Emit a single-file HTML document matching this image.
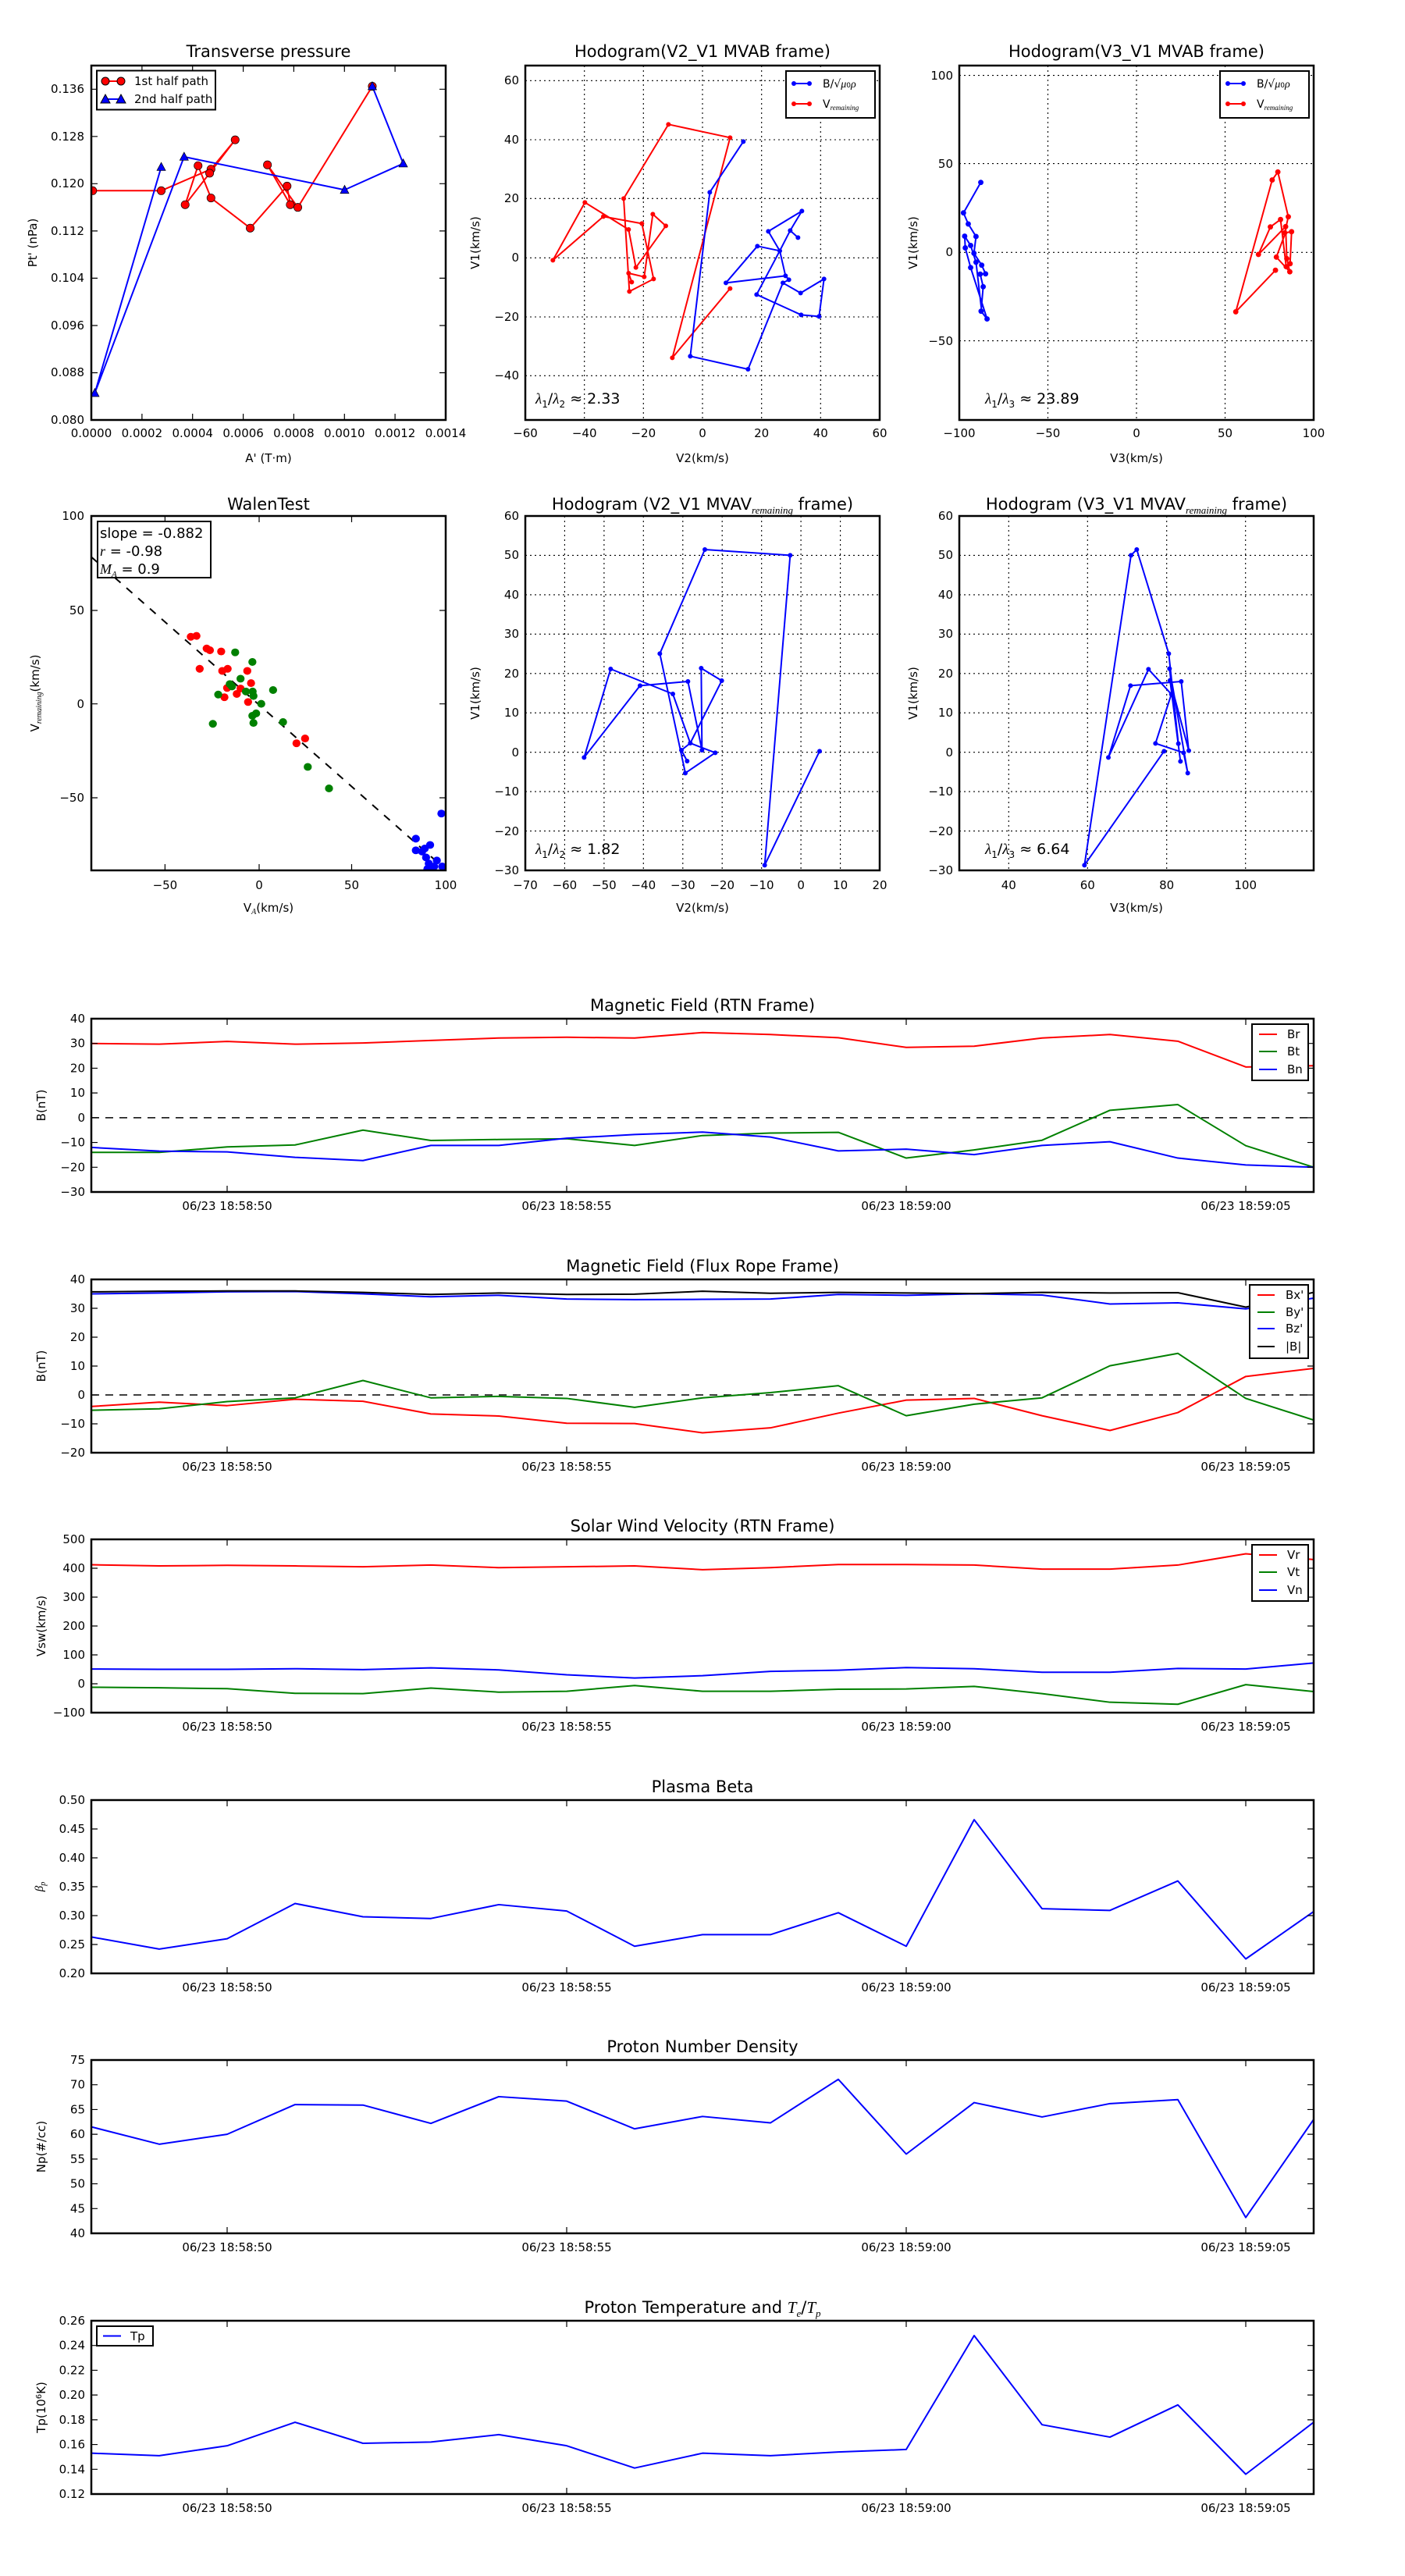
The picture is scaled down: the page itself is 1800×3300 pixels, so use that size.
<!DOCTYPE html>
<html><head><meta charset="utf-8"><style>
html,body{margin:0;padding:0;background:#fff;}
svg{display:block;font-family:"DejaVu Sans","Liberation Sans",sans-serif;}
.t{font-size:21px;text-anchor:middle;fill:#000}
.k{font-size:15px;fill:#000}
.l{font-size:15px;fill:#000}
.fr{fill:none;stroke:#000;stroke-width:2.5}
.tk{stroke:#000;stroke-width:1.2;fill:none}
.gd{stroke:#000;stroke-width:1.1;stroke-dasharray:2,4;fill:none}
.ln{fill:none;stroke-width:2;vector-effect:non-scaling-stroke;stroke-linejoin:round}
</style></head><body>
<svg width="1800" height="3300" viewBox="0 0 1800 3300" xmlns="http://www.w3.org/2000/svg">
<rect width="1800" height="3300" fill="#fff"/>

<!-- ============ Transverse pressure ============ -->
<text class="t" x="344" y="73">Transverse pressure</text>
<svg x="117" y="84" width="454" height="454" viewBox="165 128 1318 1317" preserveAspectRatio="none">
<polyline class="ln" stroke="#f00" points="170,593 425,593 610,513 700,404 605,528 514,645 562,500 610,620 756,732 893,576 905,645 820,497 933,655 1210,205"/>
<polyline class="ln" stroke="#00f" points="425,505 178,1345 510,467 1107,590 1325,492 1210,205"/>
<g fill="#f00" stroke="#000" stroke-width="2">
<circle cx="170" cy="593" r="15"/><circle cx="425" cy="593" r="15"/><circle cx="610" cy="513" r="15"/><circle cx="700" cy="404" r="15"/><circle cx="605" cy="528" r="15"/><circle cx="514" cy="645" r="15"/><circle cx="562" cy="500" r="15"/><circle cx="610" cy="620" r="15"/><circle cx="756" cy="732" r="15"/><circle cx="893" cy="576" r="15"/><circle cx="905" cy="645" r="15"/><circle cx="820" cy="497" r="15"/><circle cx="933" cy="655" r="15"/><circle cx="1210" cy="205" r="15"/>
</g>
<g fill="#00f" stroke="#000" stroke-width="2">
<polygon points="425,488 409,518 441,518"/><polygon points="178,1328 162,1358 194,1358"/><polygon points="510,450 494,480 526,480"/><polygon points="1107,573 1091,603 1123,603"/><polygon points="1325,475 1309,505 1341,505"/><polygon points="1210,188 1194,218 1226,218"/>
</g>
</svg>
<rect class="fr" x="117" y="84" width="454" height="454"/>
<path class="tk" d="M181.9,538v-8M246.7,538v-8M311.6,538v-8M376.4,538v-8M441.3,538v-8M506.1,538v-8M181.9,84v8M246.7,84v8M311.6,84v8M376.4,84v8M441.3,84v8M506.1,84v8M117,477.5h8M117,417h8M117,356.4h8M117,295.9h8M117,235.3h8M117,174.8h8M117,114.3h8M571,477.5h-8M571,417h-8M571,356.4h-8M571,295.9h-8M571,235.3h-8M571,174.8h-8M571,114.3h-8"/>
<g class="k" text-anchor="end">
<text x="108" y="543">0.080</text><text x="108" y="482">0.088</text><text x="108" y="422">0.096</text><text x="108" y="361">0.104</text><text x="108" y="301">0.112</text><text x="108" y="240">0.120</text><text x="108" y="180">0.128</text><text x="108" y="119">0.136</text>
</g>
<g class="k" text-anchor="middle">
<text x="117" y="560">0.0000</text><text x="181.9" y="560">0.0002</text><text x="246.7" y="560">0.0004</text><text x="311.6" y="560">0.0006</text><text x="376.4" y="560">0.0008</text><text x="441.3" y="560">0.0010</text><text x="506.1" y="560">0.0012</text><text x="571" y="560">0.0014</text>
</g>
<text class="l" x="344" y="592" text-anchor="middle">A' (T·m)</text>
<text class="l" transform="translate(47,311) rotate(-90)" text-anchor="middle">Pt' (nPa)</text>
<rect x="124" y="90.5" width="152" height="50" fill="#fff" stroke="#000" stroke-width="2"/>
<line x1="135" y1="104" x2="155" y2="104" stroke="#f00" stroke-width="2"/>
<circle cx="135" cy="104" r="5" fill="#f00" stroke="#000"/><circle cx="155" cy="104" r="5" fill="#f00" stroke="#000"/>
<text x="172" y="109" class="k">1st half path</text>
<line x1="135" y1="127" x2="155" y2="127" stroke="#00f" stroke-width="2"/>
<polygon points="135,121 129,132 141,132" fill="#00f" stroke="#000"/><polygon points="155,121 149,132 161,132" fill="#00f" stroke="#000"/>
<text x="172" y="132" class="k">2nd half path</text>

<!-- ============ Hodogram V2_V1 MVAB ============ -->
<text class="t" x="900" y="73">Hodogram(V2_V1 MVAB frame)</text>
<path class="gd" d="M748.7,84V538M824.3,84V538M900,84V538M975.7,84V538M1051.3,84V538M673,103.3H1127M673,179H1127M673,254.3H1127M673,330.3H1127M673,406H1127M673,481.3H1127"/>
<svg x="673" y="84" width="454" height="454" viewBox="0 0 1362 1362" preserveAspectRatio="none">
<polyline class="ln" stroke="#f00" points="787,857 565,1123 787,277 550,226 378,511 400,868 493,820 448,607 300,580 106,748 229,526 397,630 425,776 540,616 490,571 457,812 397,798 409,832"/>
<g fill="#f00"><circle cx="787" cy="857" r="9"/><circle cx="565" cy="1123" r="9"/><circle cx="787" cy="277" r="9"/><circle cx="550" cy="226" r="9"/><circle cx="378" cy="511" r="9"/><circle cx="400" cy="868" r="9"/><circle cx="493" cy="820" r="9"/><circle cx="448" cy="607" r="9"/><circle cx="300" cy="580" r="9"/><circle cx="106" cy="748" r="9"/><circle cx="229" cy="526" r="9"/><circle cx="397" cy="630" r="9"/><circle cx="425" cy="776" r="9"/><circle cx="540" cy="616" r="9"/><circle cx="490" cy="571" r="9"/><circle cx="457" cy="812" r="9"/><circle cx="397" cy="798" r="9"/><circle cx="409" cy="832" r="9"/></g>
<polyline class="ln" stroke="#00f" points="838,292 709,487 634,1117 856,1167 990,835 1058,874 1148,820 1129,964 1060,958 889,880 978,712 1018,634 1063,559 934,637 978,712 1000,808 771,835 892,694 978,712"/>
<polyline class="ln" stroke="#00f" points="1018,634 1048,661"/>
<polyline class="ln" stroke="#00f" points="1000,808 1013,823 990,835"/>
<g fill="#00f"><circle cx="838" cy="292" r="9"/><circle cx="709" cy="487" r="9"/><circle cx="634" cy="1117" r="9"/><circle cx="856" cy="1167" r="9"/><circle cx="990" cy="835" r="9"/><circle cx="1058" cy="874" r="9"/><circle cx="1148" cy="820" r="9"/><circle cx="1129" cy="964" r="9"/><circle cx="1060" cy="958" r="9"/><circle cx="889" cy="880" r="9"/><circle cx="978" cy="712" r="9"/><circle cx="1018" cy="634" r="9"/><circle cx="1063" cy="559" r="9"/><circle cx="934" cy="637" r="9"/><circle cx="1000" cy="808" r="9"/><circle cx="1013" cy="823" r="9"/><circle cx="771" cy="835" r="9"/><circle cx="892" cy="694" r="9"/><circle cx="1048" cy="661" r="9"/></g>
</svg>
<rect class="fr" x="673" y="84" width="454" height="454"/>
<g class="k" text-anchor="end"><text x="665" y="108">60</text><text x="665" y="184">40</text><text x="665" y="259">20</text><text x="665" y="335">0</text><text x="665" y="411">−20</text><text x="665" y="486">−40</text></g>
<g class="k" text-anchor="middle"><text x="673" y="560">−60</text><text x="748.7" y="560">−40</text><text x="824.3" y="560">−20</text><text x="900" y="560">0</text><text x="975.7" y="560">20</text><text x="1051.3" y="560">40</text><text x="1127" y="560">60</text></g>
<text class="l" x="900" y="592" text-anchor="middle">V2(km/s)</text>
<text class="l" transform="translate(614,311) rotate(-90)" text-anchor="middle">V1(km/s)</text>
<text x="686" y="517" style="font-size:19px"><tspan font-style="italic" font-family="Liberation Serif,serif">λ</tspan><tspan font-size="12" dy="5">1</tspan><tspan dy="-5">/</tspan><tspan font-style="italic" font-family="Liberation Serif,serif">λ</tspan><tspan font-size="12" dy="5">2</tspan><tspan dy="-5"> ≈ 2.33</tspan></text>
<rect x="1007" y="91" width="114" height="60" fill="#fff" stroke="#000" stroke-width="2"/>
<line x1="1017" y1="107" x2="1037" y2="107" stroke="#00f" stroke-width="2"/><circle cx="1017" cy="107" r="3" fill="#00f"/><circle cx="1037" cy="107" r="3" fill="#00f"/>
<text x="1054" y="112" style="font-size:14px">B/√<tspan font-style="italic" font-family="Liberation Serif,serif">μ</tspan><tspan font-size="9">0</tspan><tspan font-style="italic" font-family="Liberation Serif,serif">ρ</tspan></text>
<line x1="1017" y1="133" x2="1037" y2="133" stroke="#f00" stroke-width="2"/><circle cx="1017" cy="133" r="3" fill="#f00"/><circle cx="1037" cy="133" r="3" fill="#f00"/>
<text x="1054" y="138" style="font-size:14px">V<tspan font-size="9" font-style="italic" font-family="Liberation Serif,serif" dy="3">remaining</tspan></text>

<!-- ============ Hodogram V3_V1 MVAB ============ -->
<text class="t" x="1456" y="73">Hodogram(V3_V1 MVAB frame)</text>
<path class="gd" d="M1342.5,84V538M1456,84V538M1569.5,84V538M1229,96.6H1683M1229,209.6H1683M1229,323.3H1683M1229,436.6H1683"/>
<svg x="1229" y="84" width="454" height="454" viewBox="75 62 1187 1186" preserveAspectRatio="none">
<polyline class="ln" stroke="#00f" points="147,453 89,555 105,592 131,634 124,690 150,730 163,759 145,760 155,802 148,884 168,910 113,738 95,672 93,633 113,664 131,720 150,884"/>
<g fill="#00f"><circle cx="147" cy="453" r="9"/><circle cx="89" cy="555" r="9"/><circle cx="105" cy="592" r="9"/><circle cx="131" cy="634" r="9"/><circle cx="124" cy="690" r="9"/><circle cx="150" cy="730" r="9"/><circle cx="163" cy="759" r="9"/><circle cx="145" cy="760" r="9"/><circle cx="155" cy="802" r="9"/><circle cx="148" cy="884" r="9"/><circle cx="168" cy="910" r="9"/><circle cx="113" cy="738" r="9"/><circle cx="95" cy="672" r="9"/><circle cx="93" cy="633" r="9"/><circle cx="113" cy="664" r="9"/><circle cx="131" cy="720" r="9"/></g>
<polyline class="ln" stroke="#f00" points="1134,747 1001,886 1123,445 1142,418 1177,568 1165,622 1188,618 1183,725 1170,735 1151,577 1117,602 1077,694 1168,601 1172,708 1182,752 1137,703 1168,620"/>
<g fill="#f00"><circle cx="1134" cy="747" r="9"/><circle cx="1001" cy="886" r="9"/><circle cx="1123" cy="445" r="9"/><circle cx="1142" cy="418" r="9"/><circle cx="1177" cy="568" r="9"/><circle cx="1165" cy="622" r="9"/><circle cx="1188" cy="618" r="9"/><circle cx="1183" cy="725" r="9"/><circle cx="1170" cy="735" r="9"/><circle cx="1151" cy="577" r="9"/><circle cx="1117" cy="602" r="9"/><circle cx="1077" cy="694" r="9"/><circle cx="1168" cy="601" r="9"/><circle cx="1172" cy="708" r="9"/><circle cx="1182" cy="752" r="9"/><circle cx="1137" cy="703" r="9"/></g>
</svg>
<rect class="fr" x="1229" y="84" width="454" height="454"/>
<g class="k" text-anchor="end"><text x="1221" y="102">100</text><text x="1221" y="215">50</text><text x="1221" y="328">0</text><text x="1221" y="442">−50</text></g>
<g class="k" text-anchor="middle"><text x="1229" y="560">−100</text><text x="1342.5" y="560">−50</text><text x="1456" y="560">0</text><text x="1569.5" y="560">50</text><text x="1683" y="560">100</text></g>
<text class="l" x="1456" y="592" text-anchor="middle">V3(km/s)</text>
<text class="l" transform="translate(1175,311) rotate(-90)" text-anchor="middle">V1(km/s)</text>
<text x="1262" y="517" style="font-size:19px"><tspan font-style="italic" font-family="Liberation Serif,serif">λ</tspan><tspan font-size="12" dy="5">1</tspan><tspan dy="-5">/</tspan><tspan font-style="italic" font-family="Liberation Serif,serif">λ</tspan><tspan font-size="12" dy="5">3</tspan><tspan dy="-5"> ≈ 23.89</tspan></text>
<rect x="1563" y="91" width="114" height="60" fill="#fff" stroke="#000" stroke-width="2"/>
<line x1="1573" y1="107" x2="1593" y2="107" stroke="#00f" stroke-width="2"/><circle cx="1573" cy="107" r="3" fill="#00f"/><circle cx="1593" cy="107" r="3" fill="#00f"/>
<text x="1610" y="112" style="font-size:14px">B/√<tspan font-style="italic" font-family="Liberation Serif,serif">μ</tspan><tspan font-size="9">0</tspan><tspan font-style="italic" font-family="Liberation Serif,serif">ρ</tspan></text>
<line x1="1573" y1="133" x2="1593" y2="133" stroke="#f00" stroke-width="2"/><circle cx="1573" cy="133" r="3" fill="#f00"/><circle cx="1593" cy="133" r="3" fill="#f00"/>
<text x="1610" y="138" style="font-size:14px">V<tspan font-size="9" font-style="italic" font-family="Liberation Serif,serif" dy="3">remaining</tspan></text>

<!-- ============ WalenTest ============ -->
<text class="t" x="344" y="653">WalenTest</text>
<svg x="117" y="661" width="454" height="454" viewBox="165 318 1318 1185" preserveAspectRatio="none">
<line x1="165" y1="455" x2="1483" y2="1500" stroke="#000" stroke-width="2" stroke-dasharray="10,10" vector-effect="non-scaling-stroke"/>
<g fill="#f00"><ellipse cx="535" cy="722" rx="15" ry="13"/><ellipse cx="556" cy="719" rx="15" ry="13"/><ellipse cx="594" cy="761" rx="15" ry="13"/><ellipse cx="606" cy="767" rx="15" ry="13"/><ellipse cx="648" cy="771" rx="15" ry="13"/><ellipse cx="568" cy="829" rx="15" ry="13"/><ellipse cx="652" cy="836" rx="15" ry="13"/><ellipse cx="672" cy="829" rx="15" ry="13"/><ellipse cx="745" cy="836" rx="15" ry="13"/><ellipse cx="759" cy="877" rx="15" ry="13"/><ellipse cx="670" cy="893" rx="15" ry="13"/><ellipse cx="706" cy="913" rx="15" ry="13"/><ellipse cx="660" cy="924" rx="15" ry="13"/><ellipse cx="748" cy="940" rx="15" ry="13"/><ellipse cx="720" cy="895" rx="15" ry="13"/><ellipse cx="928" cy="1078" rx="15" ry="13"/><ellipse cx="960" cy="1062" rx="15" ry="13"/></g>
<g fill="#008000"><ellipse cx="700" cy="774" rx="15" ry="13"/><ellipse cx="764" cy="806" rx="15" ry="13"/><ellipse cx="720" cy="862" rx="15" ry="13"/><ellipse cx="680" cy="880" rx="15" ry="13"/><ellipse cx="688" cy="888" rx="15" ry="13"/><ellipse cx="740" cy="905" rx="15" ry="13"/><ellipse cx="765" cy="905" rx="15" ry="13"/><ellipse cx="768" cy="920" rx="15" ry="13"/><ellipse cx="637" cy="915" rx="15" ry="13"/><ellipse cx="797" cy="946" rx="15" ry="13"/><ellipse cx="841" cy="900" rx="15" ry="13"/><ellipse cx="778" cy="978" rx="15" ry="13"/><ellipse cx="764" cy="986" rx="15" ry="13"/><ellipse cx="768" cy="1010" rx="15" ry="13"/><ellipse cx="617" cy="1013" rx="15" ry="13"/><ellipse cx="878" cy="1007" rx="15" ry="13"/><ellipse cx="970" cy="1157" rx="15" ry="13"/><ellipse cx="1049" cy="1229" rx="15" ry="13"/></g>
<g fill="#00f"><ellipse cx="1467" cy="1313" rx="15" ry="13"/><ellipse cx="1372" cy="1397" rx="15" ry="13"/><ellipse cx="1372" cy="1436" rx="15" ry="13"/><ellipse cx="1405" cy="1430" rx="15" ry="13"/><ellipse cx="1425" cy="1418" rx="15" ry="13"/><ellipse cx="1410" cy="1460" rx="15" ry="13"/><ellipse cx="1450" cy="1470" rx="15" ry="13"/><ellipse cx="1420" cy="1480" rx="15" ry="13"/><ellipse cx="1440" cy="1490" rx="15" ry="13"/><ellipse cx="1470" cy="1490" rx="15" ry="13"/><ellipse cx="1430" cy="1500" rx="15" ry="13"/><ellipse cx="1415" cy="1498" rx="15" ry="13"/><ellipse cx="1395" cy="1440" rx="15" ry="13"/></g>
</svg>
<rect class="fr" x="117" y="661" width="454" height="454"/>
<path class="tk" d="M211.4,1115v-8M332,1115v-8M450.5,1115v-8M211.4,661v8M332,661v8M450.5,661v8M117,782h8M117,901.7h8M117,1022h8M571,782h-8M571,901.7h-8M571,1022h-8"/>
<g class="k" text-anchor="end"><text x="108" y="666">100</text><text x="108" y="787">50</text><text x="108" y="907">0</text><text x="108" y="1027">−50</text></g>
<g class="k" text-anchor="middle"><text x="211.4" y="1139">−50</text><text x="332" y="1139">0</text><text x="450.5" y="1139">50</text><text x="571" y="1139">100</text></g>
<text class="l" x="344" y="1168" text-anchor="middle">V<tspan font-size="10" font-style="italic" font-family="Liberation Serif,serif" dy="3">A</tspan><tspan dy="-3">(km/s)</tspan></text>
<text class="l" transform="translate(50,888) rotate(-90)" text-anchor="middle">V<tspan font-size="10" font-style="italic" font-family="Liberation Serif,serif" dy="3">remaining</tspan><tspan dy="-3">(km/s)</tspan></text>
<rect x="125" y="668" width="145" height="72" fill="#fff" stroke="#000" stroke-width="2"/>
<text x="128" y="689" style="font-size:18px">slope = -0.882</text>
<text x="128" y="712" style="font-size:18px"><tspan font-style="italic" font-family="Liberation Serif,serif">r</tspan> = -0.98</text>
<text x="128" y="735" style="font-size:18px"><tspan font-style="italic" font-family="Liberation Serif,serif">M</tspan><tspan font-size="11" font-style="italic" font-family="Liberation Serif,serif" dy="4">A</tspan><tspan dy="-4"> = 0.9</tspan></text>

<!-- ============ Hodogram V2_V1 MVAV ============ -->
<text class="t" x="900" y="653">Hodogram (V2_V1 MVAV<tspan font-size="13" font-style="italic" font-family="Liberation Serif,serif" dy="5">remaining</tspan><tspan dy="-5"> frame)</tspan></text>
<path class="gd" d="M723.4,661V1115M773.9,661V1115M824.3,661V1115M874.8,661V1115M925.2,661V1115M975.7,661V1115M1026.1,661V1115M1076.6,661V1115M673,711.4H1127M673,761.9H1127M673,812.3H1127M673,862.8H1127M673,913.2H1127M673,963.7H1127M673,1014.1H1127M673,1064.6H1127"/>
<svg x="673" y="661" width="454" height="454" viewBox="0 0 1362 1362" preserveAspectRatio="none">
<polyline class="ln" stroke="#00f" points="1131,904 920,1342 1018,151 690,129 517,529 615,988 730,910 634,873 567,684 328,588 226,928 441,652 625,636 679,900 676,585 755,633 634,873 600,900 622,942"/>
<g fill="#00f"><circle cx="1131" cy="904" r="9"/><circle cx="920" cy="1342" r="9"/><circle cx="1018" cy="151" r="9"/><circle cx="690" cy="129" r="9"/><circle cx="517" cy="529" r="9"/><circle cx="615" cy="988" r="9"/><circle cx="730" cy="910" r="9"/><circle cx="634" cy="873" r="9"/><circle cx="567" cy="684" r="9"/><circle cx="328" cy="588" r="9"/><circle cx="226" cy="928" r="9"/><circle cx="441" cy="652" r="9"/><circle cx="625" cy="636" r="9"/><circle cx="679" cy="900" r="9"/><circle cx="676" cy="585" r="9"/><circle cx="755" cy="633" r="9"/><circle cx="600" cy="900" r="9"/><circle cx="622" cy="942" r="9"/></g>
</svg>
<rect class="fr" x="673" y="661" width="454" height="454"/>
<g class="k" text-anchor="end"><text x="665" y="666">60</text><text x="665" y="716">50</text><text x="665" y="767">40</text><text x="665" y="817">30</text><text x="665" y="868">20</text><text x="665" y="918">10</text><text x="665" y="969">0</text><text x="665" y="1019">−10</text><text x="665" y="1070">−20</text><text x="665" y="1120">−30</text></g>
<g class="k" text-anchor="middle"><text x="673" y="1139">−70</text><text x="723.4" y="1139">−60</text><text x="773.9" y="1139">−50</text><text x="824.3" y="1139">−40</text><text x="874.8" y="1139">−30</text><text x="925.2" y="1139">−20</text><text x="975.7" y="1139">−10</text><text x="1026.1" y="1139">0</text><text x="1076.6" y="1139">10</text><text x="1127" y="1139">20</text></g>
<text class="l" x="900" y="1168" text-anchor="middle">V2(km/s)</text>
<text class="l" transform="translate(614,888) rotate(-90)" text-anchor="middle">V1(km/s)</text>
<text x="686" y="1094" style="font-size:19px"><tspan font-style="italic" font-family="Liberation Serif,serif">λ</tspan><tspan font-size="12" dy="5">1</tspan><tspan dy="-5">/</tspan><tspan font-style="italic" font-family="Liberation Serif,serif">λ</tspan><tspan font-size="12" dy="5">2</tspan><tspan dy="-5"> ≈ 1.82</tspan></text>

<!-- ============ Hodogram V3_V1 MVAV ============ -->
<text class="t" x="1456" y="653">Hodogram (V3_V1 MVAV<tspan font-size="13" font-style="italic" font-family="Liberation Serif,serif" dy="5">remaining</tspan><tspan dy="-5"> frame)</tspan></text>
<path class="gd" d="M1292.3,661V1115M1393.3,661V1115M1494.7,661V1115M1595.7,661V1115M1229,711.4H1683M1229,761.9H1683M1229,812.3H1683M1229,862.8H1683M1229,913.2H1683M1229,963.7H1683M1229,1014.1H1683M1229,1064.6H1683"/>
<svg x="1229" y="661" width="454" height="454" viewBox="0 0 1362 1362" preserveAspectRatio="none">
<polyline class="ln" stroke="#00f" points="787,904 481,1342 660,151 682,129 805,529 842,875 808,587 878,988 862,910 754,874 815,685 727,589 573,928 658,652 853,636 882,902 810,632 850,943"/>
<g fill="#00f"><circle cx="787" cy="904" r="9"/><circle cx="481" cy="1342" r="9"/><circle cx="660" cy="151" r="9"/><circle cx="682" cy="129" r="9"/><circle cx="805" cy="529" r="9"/><circle cx="842" cy="875" r="9"/><circle cx="808" cy="587" r="9"/><circle cx="878" cy="988" r="9"/><circle cx="862" cy="910" r="9"/><circle cx="754" cy="874" r="9"/><circle cx="815" cy="685" r="9"/><circle cx="727" cy="589" r="9"/><circle cx="573" cy="928" r="9"/><circle cx="658" cy="652" r="9"/><circle cx="853" cy="636" r="9"/><circle cx="882" cy="902" r="9"/><circle cx="810" cy="632" r="9"/><circle cx="850" cy="943" r="9"/></g>
</svg>
<rect class="fr" x="1229" y="661" width="454" height="454"/>
<g class="k" text-anchor="end"><text x="1221" y="666">60</text><text x="1221" y="716">50</text><text x="1221" y="767">40</text><text x="1221" y="817">30</text><text x="1221" y="868">20</text><text x="1221" y="918">10</text><text x="1221" y="969">0</text><text x="1221" y="1019">−10</text><text x="1221" y="1070">−20</text><text x="1221" y="1120">−30</text></g>
<g class="k" text-anchor="middle"><text x="1292.3" y="1139">40</text><text x="1393.3" y="1139">60</text><text x="1494.7" y="1139">80</text><text x="1595.7" y="1139">100</text></g>
<text class="l" x="1456" y="1168" text-anchor="middle">V3(km/s)</text>
<text class="l" transform="translate(1175,888) rotate(-90)" text-anchor="middle">V1(km/s)</text>
<text x="1262" y="1094" style="font-size:19px"><tspan font-style="italic" font-family="Liberation Serif,serif">λ</tspan><tspan font-size="12" dy="5">1</tspan><tspan dy="-5">/</tspan><tspan font-style="italic" font-family="Liberation Serif,serif">λ</tspan><tspan font-size="12" dy="5">3</tspan><tspan dy="-5"> ≈ 6.64</tspan></text>

<!-- ============ Time series ============ -->
<g transform="translate(117,1305)">
<text class="t" x="783" y="-10">Magnetic Field (RTN Frame)</text>
<line x1="0" y1="126.86" x2="1566" y2="126.86" stroke="#000" stroke-width="1.5" stroke-dasharray="10,8"/>
<svg x="0" y="0" width="1566" height="222" viewBox="0 -40 18 70" preserveAspectRatio="none">
<polyline class="ln" stroke="#f00" points="0,-30 1,-29.7 2,-30.8 3,-29.7 4,-30.2 5,-31.2 6,-32.2 7,-32.5 8,-32.2 9,-34.4 10,-33.6 11,-32.3 12,-28.4 13,-28.9 14,-32.2 15,-33.6 16,-30.9 17,-20.5 18,-21"/>
<polyline class="ln" stroke="#008000" points="0,14 1,14 2,11.8 3,11 4,5 5,9.2 6,8.8 7,8.5 8,11.2 9,7.2 10,6.2 11,5.9 12,16.3 13,13 14,9.1 15,-3 16,-5.3 17,11.3 18,20"/>
<polyline class="ln" stroke="#00f" points="0,12 1,13.5 2,13.8 3,16 4,17.3 5,11.2 6,11.2 7,8.3 8,6.8 9,5.8 10,7.8 11,13.4 12,12.7 13,14.9 14,11.2 15,9.7 16,16.3 17,19.1 18,20"/>
</svg>
<rect class="fr" x="0" y="0" width="1566" height="222"/>
<path class="tk" d="M174,222v-8M609,222v-8M1044,222v-8M1479,222v-8M174,0v8M609,0v8M1044,0v8M1479,0v8M0,31.71h8M0,63.43h8M0,95.14h8M0,126.86h8M0,158.57h8M0,190.29h8M1566,31.71h-8M1566,63.43h-8M1566,95.14h-8M1566,126.86h-8M1566,158.57h-8M1566,190.29h-8"/>
<g class="k" text-anchor="end"><text x="-8" y="5">40</text><text x="-8" y="36.7">30</text><text x="-8" y="68.4">20</text><text x="-8" y="100.1">10</text><text x="-8" y="131.9">0</text><text x="-8" y="163.6">−10</text><text x="-8" y="195.3">−20</text><text x="-8" y="227">−30</text></g>
<g class="k" text-anchor="middle"><text x="174" y="245">06/23 18:58:50</text><text x="609" y="245">06/23 18:58:55</text><text x="1044" y="245">06/23 18:59:00</text><text x="1479" y="245">06/23 18:59:05</text></g>
<text class="l" transform="translate(-59,111) rotate(-90)" text-anchor="middle">B(nT)</text>
<rect x="1487" y="7" width="72" height="72" fill="#fff" stroke="#000" stroke-width="2"/>
<line x1="1496" y1="20" x2="1519" y2="20" stroke="#f00" stroke-width="2"/><text class="k" x="1532" y="25">Br</text>
<line x1="1496" y1="42" x2="1519" y2="42" stroke="#008000" stroke-width="2"/><text class="k" x="1532" y="47">Bt</text>
<line x1="1496" y1="65" x2="1519" y2="65" stroke="#00f" stroke-width="2"/><text class="k" x="1532" y="70">Bn</text>
</g>

<g transform="translate(117,1639)">
<text class="t" x="783" y="-10">Magnetic Field (Flux Rope Frame)</text>
<line x1="0" y1="148" x2="1566" y2="148" stroke="#000" stroke-width="1.5" stroke-dasharray="10,8"/>
<svg x="0" y="0" width="1566" height="222" viewBox="0 -40 18 60" preserveAspectRatio="none">
<polyline class="ln" stroke="#f00" points="0,4 1,2.5 2,3.7 3,1.5 4,2.2 5,6.6 6,7.3 7,9.8 8,9.9 9,13.1 10,11.4 11,6.3 12,1.8 13,1.2 14,7.2 15,12.3 16,6.1 17,-6.4 18,-9.2"/>
<polyline class="ln" stroke="#008000" points="0,5.3 1,4.8 2,2.3 3,1 4,-5 5,1 6,0.5 7,1.2 8,4.3 9,1 10,-0.8 11,-3.2 12,7.2 13,3.2 14,1 15,-10.1 16,-14.4 17,1.2 18,8.7"/>
<polyline class="ln" stroke="#00f" points="0,-35 1,-35.3 2,-35.7 3,-35.8 4,-35 5,-34 6,-34.5 7,-33.2 8,-33 9,-33.1 10,-33.2 11,-34.8 12,-34.5 13,-35 14,-34.6 15,-31.5 16,-31.9 17,-29.8 18,-33.5"/>
<polyline class="ln" stroke="#000" points="0,-35.7 1,-35.9 2,-36 3,-36 4,-35.5 5,-34.8 6,-35.3 7,-34.8 8,-34.9 9,-35.9 10,-35.2 11,-35.5 12,-35.3 13,-35.1 14,-35.5 15,-35.3 16,-35.4 17,-30.4 18,-35.5"/>
</svg>
<rect class="fr" x="0" y="0" width="1566" height="222"/>
<path class="tk" d="M174,222v-8M609,222v-8M1044,222v-8M1479,222v-8M174,0v8M609,0v8M1044,0v8M1479,0v8M0,37h8M0,74h8M0,111h8M0,148h8M0,185h8M1566,37h-8M1566,74h-8M1566,111h-8M1566,148h-8M1566,185h-8"/>
<g class="k" text-anchor="end"><text x="-8" y="5">40</text><text x="-8" y="42">30</text><text x="-8" y="79">20</text><text x="-8" y="116">10</text><text x="-8" y="153">0</text><text x="-8" y="190">−10</text><text x="-8" y="227">−20</text></g>
<g class="k" text-anchor="middle"><text x="174" y="245">06/23 18:58:50</text><text x="609" y="245">06/23 18:58:55</text><text x="1044" y="245">06/23 18:59:00</text><text x="1479" y="245">06/23 18:59:05</text></g>
<text class="l" transform="translate(-59,111) rotate(-90)" text-anchor="middle">B(nT)</text>
<rect x="1484" y="7" width="75" height="94" fill="#fff" stroke="#000" stroke-width="2"/>
<line x1="1494" y1="20" x2="1516" y2="20" stroke="#f00" stroke-width="2"/><text class="k" x="1530" y="25">Bx'</text>
<line x1="1494" y1="42" x2="1516" y2="42" stroke="#008000" stroke-width="2"/><text class="k" x="1530" y="47">By'</text>
<line x1="1494" y1="63" x2="1516" y2="63" stroke="#00f" stroke-width="2"/><text class="k" x="1530" y="68">Bz'</text>
<line x1="1494" y1="86" x2="1516" y2="86" stroke="#000" stroke-width="2"/><text class="k" x="1530" y="91">|B|</text>
</g>

<g transform="translate(117,1972)">
<text class="t" x="783" y="-10">Solar Wind Velocity (RTN Frame)</text>
<svg x="0" y="0" width="1566" height="222" viewBox="0 -500 18 600" preserveAspectRatio="none">
<polyline class="ln" stroke="#f00" points="0,-412 1,-408 2,-410 3,-408 4,-405 5,-411 6,-402 7,-405 8,-408 9,-395 10,-402 11,-413 12,-413 13,-411 14,-397 15,-397 16,-411 17,-450 18,-430"/>
<polyline class="ln" stroke="#008000" points="0,12 1,14 2,17 3,33 4,34 5,15 6,29 7,26 8,6 9,26 10,26 11,19 12,18 13,9 14,34 15,64 16,71 17,3 18,27"/>
<polyline class="ln" stroke="#00f" points="0,-51 1,-50 2,-50 3,-52 4,-49 5,-55 6,-48 7,-31 8,-20 9,-28 10,-43 11,-47 12,-56 13,-52 14,-40 15,-40 16,-53 17,-51 18,-72"/>
</svg>
<rect class="fr" x="0" y="0" width="1566" height="222"/>
<path class="tk" d="M174,222v-8M609,222v-8M1044,222v-8M1479,222v-8M174,0v8M609,0v8M1044,0v8M1479,0v8M0,37h8M0,74h8M0,111h8M0,148h8M0,185h8M1566,37h-8M1566,74h-8M1566,111h-8M1566,148h-8M1566,185h-8"/>
<g class="k" text-anchor="end"><text x="-8" y="5">500</text><text x="-8" y="42">400</text><text x="-8" y="79">300</text><text x="-8" y="116">200</text><text x="-8" y="153">100</text><text x="-8" y="190">0</text><text x="-8" y="227">−100</text></g>
<g class="k" text-anchor="middle"><text x="174" y="245">06/23 18:58:50</text><text x="609" y="245">06/23 18:58:55</text><text x="1044" y="245">06/23 18:59:00</text><text x="1479" y="245">06/23 18:59:05</text></g>
<text class="l" transform="translate(-59,111) rotate(-90)" text-anchor="middle">Vsw(km/s)</text>
<rect x="1487" y="7" width="72" height="72" fill="#fff" stroke="#000" stroke-width="2"/>
<line x1="1496" y1="20" x2="1519" y2="20" stroke="#f00" stroke-width="2"/><text class="k" x="1532" y="25">Vr</text>
<line x1="1496" y1="42" x2="1519" y2="42" stroke="#008000" stroke-width="2"/><text class="k" x="1532" y="47">Vt</text>
<line x1="1496" y1="65" x2="1519" y2="65" stroke="#00f" stroke-width="2"/><text class="k" x="1532" y="70">Vn</text>
</g>

<g transform="translate(117,2306)">
<text class="t" x="783" y="-10">Plasma Beta</text>
<svg x="0" y="0" width="1566" height="222" viewBox="0 -0.5 18 0.3" preserveAspectRatio="none">
<polyline class="ln" stroke="#00f" points="0,-0.263 1,-0.242 2,-0.26 3,-0.321 4,-0.298 5,-0.295 6,-0.319 7,-0.308 8,-0.247 9,-0.267 10,-0.267 11,-0.305 12,-0.247 13,-0.466 14,-0.312 15,-0.309 16,-0.36 17,-0.225 18,-0.307"/>
</svg>
<rect class="fr" x="0" y="0" width="1566" height="222"/>
<path class="tk" d="M174,222v-8M609,222v-8M1044,222v-8M1479,222v-8M174,0v8M609,0v8M1044,0v8M1479,0v8M0,37h8M0,74h8M0,111h8M0,148h8M0,185h8M1566,37h-8M1566,74h-8M1566,111h-8M1566,148h-8M1566,185h-8"/>
<g class="k" text-anchor="end"><text x="-8" y="5">0.50</text><text x="-8" y="42">0.45</text><text x="-8" y="79">0.40</text><text x="-8" y="116">0.35</text><text x="-8" y="153">0.30</text><text x="-8" y="190">0.25</text><text x="-8" y="227">0.20</text></g>
<g class="k" text-anchor="middle"><text x="174" y="245">06/23 18:58:50</text><text x="609" y="245">06/23 18:58:55</text><text x="1044" y="245">06/23 18:59:00</text><text x="1479" y="245">06/23 18:59:05</text></g>
<text class="l" transform="translate(-62,111) rotate(-90)" text-anchor="middle" font-family="Liberation Serif,serif" font-style="italic">β<tspan font-size="10" dy="3">p</tspan></text>
</g>

<g transform="translate(117,2639)">
<text class="t" x="783" y="-10">Proton Number Density</text>
<svg x="0" y="0" width="1566" height="222" viewBox="0 -75 18 35" preserveAspectRatio="none">
<polyline class="ln" stroke="#00f" points="0,-61.5 1,-58 2,-60 3,-66 4,-65.9 5,-62.2 6,-67.6 7,-66.7 8,-61.1 9,-63.6 10,-62.3 11,-71.1 12,-56 13,-66.4 14,-63.5 15,-66.2 16,-67 17,-43.2 18,-63"/>
</svg>
<rect class="fr" x="0" y="0" width="1566" height="222"/>
<path class="tk" d="M174,222v-8M609,222v-8M1044,222v-8M1479,222v-8M174,0v8M609,0v8M1044,0v8M1479,0v8M0,31.71h8M0,63.43h8M0,95.14h8M0,126.86h8M0,158.57h8M0,190.29h8M1566,31.71h-8M1566,63.43h-8M1566,95.14h-8M1566,126.86h-8M1566,158.57h-8M1566,190.29h-8"/>
<g class="k" text-anchor="end"><text x="-8" y="5">75</text><text x="-8" y="36.7">70</text><text x="-8" y="68.4">65</text><text x="-8" y="100.1">60</text><text x="-8" y="131.9">55</text><text x="-8" y="163.6">50</text><text x="-8" y="195.3">45</text><text x="-8" y="227">40</text></g>
<g class="k" text-anchor="middle"><text x="174" y="245">06/23 18:58:50</text><text x="609" y="245">06/23 18:58:55</text><text x="1044" y="245">06/23 18:59:00</text><text x="1479" y="245">06/23 18:59:05</text></g>
<text class="l" transform="translate(-59,111) rotate(-90)" text-anchor="middle">Np(#/cc)</text>
</g>

<g transform="translate(117,2973)">
<text class="t" x="783" y="-10">Proton Temperature and <tspan font-style="italic" font-family="Liberation Serif,serif">T</tspan><tspan font-size="13" font-style="italic" font-family="Liberation Serif,serif" dy="5">e</tspan><tspan dy="-5">/</tspan><tspan font-style="italic" font-family="Liberation Serif,serif">T</tspan><tspan font-size="13" font-style="italic" font-family="Liberation Serif,serif" dy="5">p</tspan></text>
<svg x="0" y="0" width="1566" height="222" viewBox="0 -0.26 18 0.14" preserveAspectRatio="none">
<polyline class="ln" stroke="#00f" points="0,-0.153 1,-0.151 2,-0.159 3,-0.178 4,-0.161 5,-0.162 6,-0.168 7,-0.159 8,-0.141 9,-0.153 10,-0.151 11,-0.154 12,-0.156 13,-0.248 14,-0.176 15,-0.166 16,-0.192 17,-0.136 18,-0.178"/>
</svg>
<rect class="fr" x="0" y="0" width="1566" height="222"/>
<path class="tk" d="M174,222v-8M609,222v-8M1044,222v-8M1479,222v-8M174,0v8M609,0v8M1044,0v8M1479,0v8M0,31.71h8M0,63.43h8M0,95.14h8M0,126.86h8M0,158.57h8M0,190.29h8M1566,31.71h-8M1566,63.43h-8M1566,95.14h-8M1566,126.86h-8M1566,158.57h-8M1566,190.29h-8"/>
<g class="k" text-anchor="end"><text x="-8" y="5">0.26</text><text x="-8" y="36.7">0.24</text><text x="-8" y="68.4">0.22</text><text x="-8" y="100.1">0.20</text><text x="-8" y="131.9">0.18</text><text x="-8" y="163.6">0.16</text><text x="-8" y="195.3">0.14</text><text x="-8" y="227">0.12</text></g>
<g class="k" text-anchor="middle"><text x="174" y="245">06/23 18:58:50</text><text x="609" y="245">06/23 18:58:55</text><text x="1044" y="245">06/23 18:59:00</text><text x="1479" y="245">06/23 18:59:05</text></g>
<text class="l" transform="translate(-59,111) rotate(-90)" text-anchor="middle">Tp(10<tspan font-size="10" dy="-5">6</tspan><tspan dy="5">K)</tspan></text>
<rect x="7" y="7" width="72" height="25" fill="#fff" stroke="#000" stroke-width="2"/>
<line x1="15" y1="19.5" x2="38" y2="19.5" stroke="#00f" stroke-width="2"/><text class="k" x="50" y="25">Tp</text>
</g>
</svg>
</body></html>
